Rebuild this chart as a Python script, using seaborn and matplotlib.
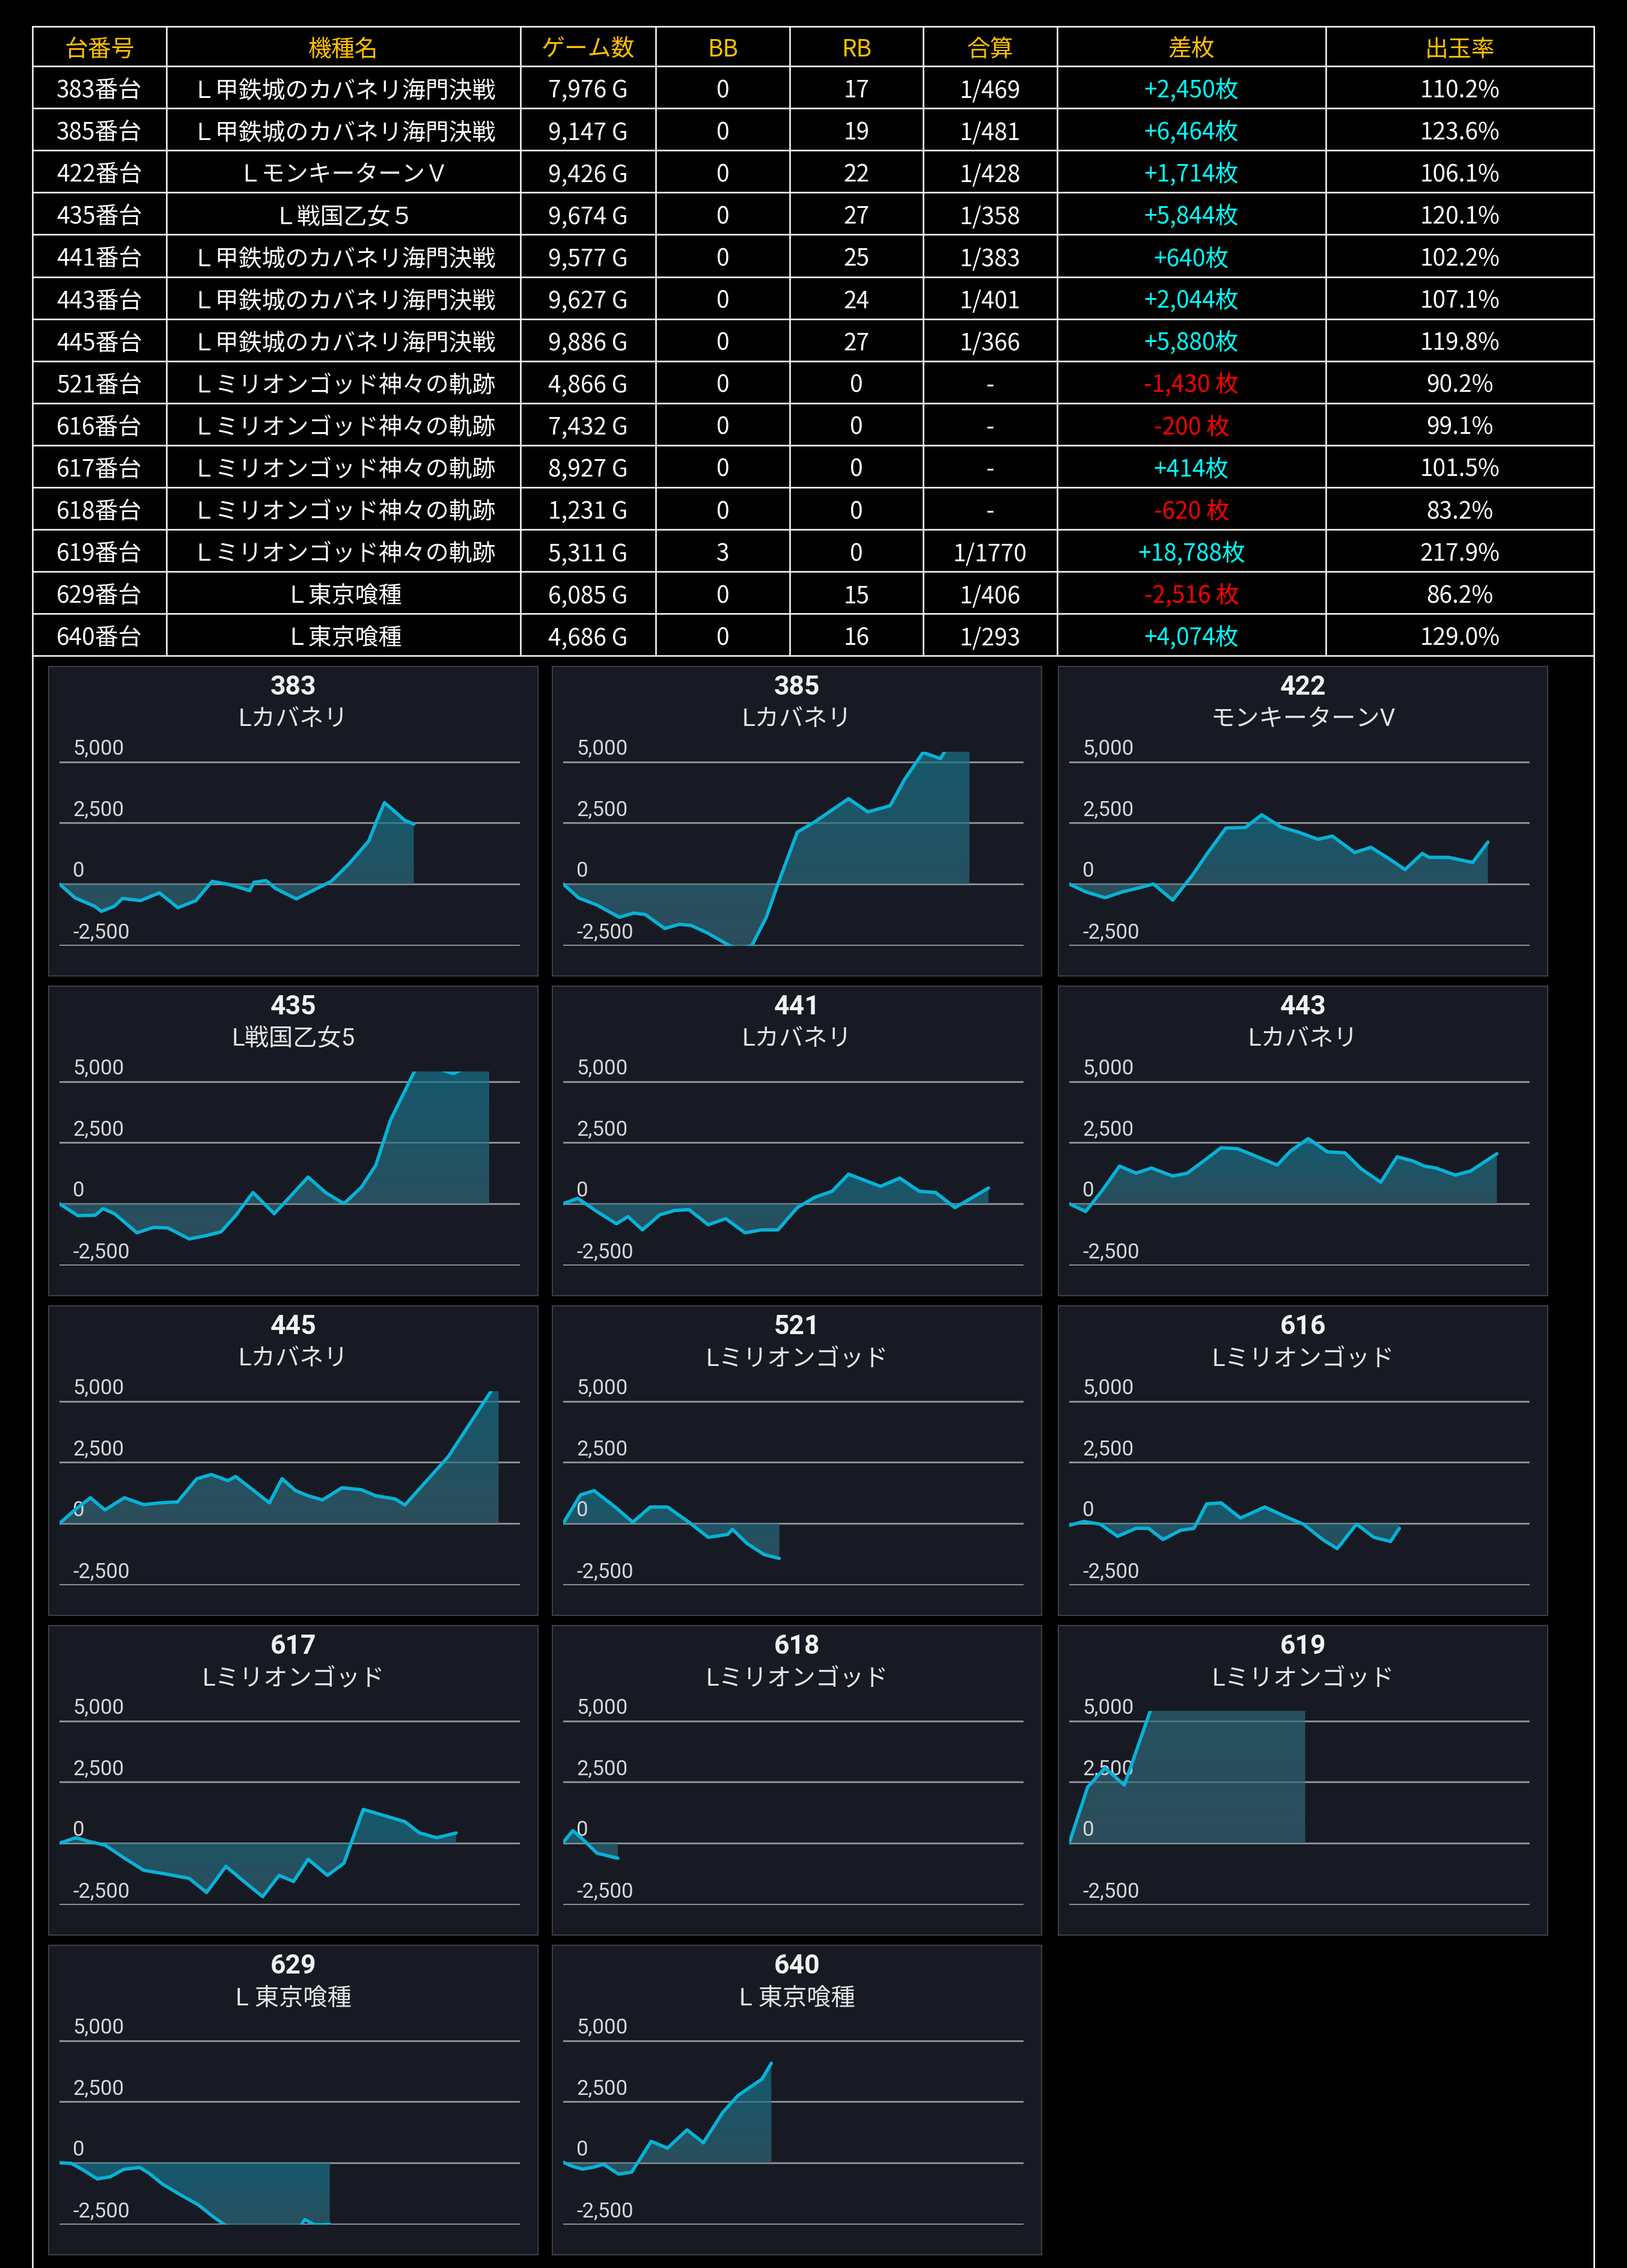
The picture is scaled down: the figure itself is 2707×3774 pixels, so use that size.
import numpy as np
import pandas as pd
import matplotlib
matplotlib.use("Agg")
import matplotlib.pyplot as plt
import seaborn as sns
from matplotlib.lines import Line2D
from matplotlib.patches import Rectangle

# --- table data ---
headers = ["台番号", "機種名", "ゲーム数", "BB", "RB", "合算", "差枚", "出玉率"]
machine_ids = [383, 385, 422, 435, 441, 443, 445, 521, 616, 617, 618, 619, 629, 640]
machine_names = [
    "Ｌ甲鉄城のカバネリ海門決戦", "Ｌ甲鉄城のカバネリ海門決戦", "ＬモンキーターンＶ", "Ｌ戦国乙女５",
    "Ｌ甲鉄城のカバネリ海門決戦", "Ｌ甲鉄城のカバネリ海門決戦", "Ｌ甲鉄城のカバネリ海門決戦",
    "Ｌミリオンゴッド神々の軌跡", "Ｌミリオンゴッド神々の軌跡", "Ｌミリオンゴッド神々の軌跡",
    "Ｌミリオンゴッド神々の軌跡", "Ｌミリオンゴッド神々の軌跡", "Ｌ東京喰種", "Ｌ東京喰種",
]
games = [7976, 9147, 9426, 9674, 9577, 9627, 9886, 4866, 7432, 8927, 1231, 5311, 6085, 4686]
bb = [0, 0, 0, 0, 0, 0, 0, 0, 0, 0, 0, 3, 0, 0]
rb = [17, 19, 22, 27, 25, 24, 27, 0, 0, 0, 0, 0, 15, 16]
combined = ["1/469", "1/481", "1/428", "1/358", "1/383", "1/401", "1/366",
            "-", "-", "-", "-", "1/1770", "1/406", "1/293"]
diff_coins = [2450, 6464, 1714, 5844, 640, 2044, 5880, -1430, -200, 414, -620, 18788, -2516, 4074]
payout = ["110.2%", "123.6%", "106.1%", "120.1%", "102.2%", "107.1%", "119.8%",
          "90.2%", "99.1%", "101.5%", "83.2%", "217.9%", "86.2%", "129.0%"]

# --- panel data (games played vs coin difference) ---
short_names = ["Lカバネリ", "Lカバネリ", "モンキーターンV", "L戦国乙女5", "Lカバネリ", "Lカバネリ",
               "Lカバネリ", "Lミリオンゴッド", "Lミリオンゴッド", "Lミリオンゴッド",
               "Lミリオンゴッド", "Lミリオンゴッド", "L 東京喰種", "L 東京喰種"]

x383 = [0, 353, 793, 940, 1234, 1418, 1822, 2248, 2666, 3070, 3437, 3841, 4282, 4378, 4650,
        4870, 5333, 5788, 6118, 6522, 6963, 7147, 7316, 7771, 7976]
y383 = [0, -570, -910, -1120, -910, -590, -680, -360, -970, -680, 110, -30, -270, 70, 140,
        -190, -610, -190, 110, 830, 1760, 2610, 3330, 2610, 2450]
x385 = [0, 348, 762, 1263, 1590, 1851, 2287, 2614, 2875, 3267, 3746, 3964, 4247, 4574, 4835,
        5271, 5663, 6425, 6860, 7361, 7688, 8102, 8494, 8647, 8900, 9147]
y385 = [0, -570, -860, -1360, -1190, -1250, -1820, -1650, -1690, -2020, -2520, -2650, -2520,
        -1360, 0, 2120, 2540, 3490, 2950, 3200, 4280, 5380, 5130, 5600, 6100, 6464]
x422 = [0, 370, 806, 1198, 1568, 1895, 2330, 2766, 3093, 3528, 3964, 4334, 4770, 5162, 5597,
        5924, 6425, 6795, 7187, 7558, 7950, 8102, 8538, 9082, 9426]
y422 = [0, -320, -560, -320, -160, 0, -660, 340, 1210, 2290, 2310, 2830, 2330, 2120, 1830,
        1960, 1290, 1500, 1050, 590, 1250, 1090, 1090, 880, 1714]
x435 = [0, 414, 806, 980, 1241, 1742, 2112, 2439, 2919, 3267, 3637, 3964, 4356, 4835, 5597,
        5989, 6403, 6795, 7122, 7449, 7993, 8211, 8865, 9191, 9674]
y435 = [0, -490, -470, -200, -410, -1190, -970, -990, -1440, -1320, -1150, -490, 460, -410,
        1090, 460, 0, 670, 1580, 3410, 5420, 5700, 5320, 5600, 5844]
x441 = [0, 327, 762, 1198, 1459, 1786, 2178, 2505, 2832, 3267, 3659, 4095, 4465, 4835, 5271,
        5663, 6055, 6425, 7144, 7579, 8015, 8385, 8821, 9577]
y441 = [0, 220, -320, -820, -530, -1070, -450, -280, -240, -860, -610, -1190, -1070, -1070,
        -160, 260, 510, 1210, 710, 1050, 510, 460, -160, 640]
x443 = [0, 370, 762, 1133, 1503, 1851, 2330, 2657, 3027, 3419, 3790, 4182, 4682, 4987, 5380,
        5815, 6207, 6577, 7013, 7383, 7732, 7993, 8254, 8690, 9039, 9627]
y443 = [0, -320, 590, 1540, 1250, 1460, 1130, 1250, 1750, 2290, 2250, 1960, 1580, 2160, 2660,
        2120, 2080, 1420, 880, 1920, 1750, 1540, 1460, 1170, 1340, 2044]
x445 = [0, 370, 697, 1023, 1459, 1895, 2265, 2657, 3093, 3419, 3790, 3964, 4291, 4726, 5010,
        5315, 5597, 5924, 6360, 6795, 7122, 7558, 7775, 8756, 9886]
y445 = [0, 590, 1050, 550, 1050, 770, 840, 880, 1830, 2000, 1750, 1920, 1460, 840, 1830,
        1340, 1130, 960, 1460, 1380, 1130, 1000, 750, 2740, 5880]
x521 = [0, 392, 697, 1198, 1568, 1960, 2352, 2832, 3267, 3702, 3811, 4138, 4530, 4866]
y521 = [0, 1170, 1340, 630, 50, 670, 670, 50, -570, -450, -240, -820, -1280, -1430]
x616 = [0, 327, 697, 1089, 1503, 1786, 2112, 2505, 2810, 3093, 3419, 3855, 4400, 4944, 5271,
        5706, 6033, 6469, 6860, 7231, 7432]
y616 = [-80, 80, -30, -530, -200, -200, -660, -280, -200, 800, 840, 220, 670, 220, -30,
        -660, -1030, -30, -570, -740, -200]
x617 = [0, 370, 697, 1023, 1459, 1895, 2439, 2919, 3311, 3746, 4182, 4574, 4944, 5271, 5597,
        6033, 6403, 6838, 7231, 7775, 8102, 8494, 8927]
y617 = [0, 220, 50, -80, -610, -1110, -1280, -1440, -2020, -950, -1610, -2190, -1320, -1570,
        -660, -1320, -820, 1380, 1170, 880, 420, 220, 414]
x618 = [0, 218, 435, 762, 1231]
y618 = [25, 510, 170, -410, -620]
x619 = [0, 414, 806, 1241, 1900, 2600, 3400, 4300, 5311]
y619 = [0, 2290, 3080, 2370, 5800, 8600, 11800, 15000, 18788]
x629 = [0, 264, 558, 851, 1145, 1439, 1806, 2026, 2320, 2716, 3127, 3450, 3714, 4300, 5000,
        5402, 5520, 5740, 5945, 6085]
y629 = [0, -20, -320, -660, -570, -270, -190, -440, -870, -1300, -1720, -2190, -2530, -3100,
        -2900, -2650, -2320, -2530, -2530, -2516]
x640 = [0, 220, 440, 705, 910, 1248, 1541, 1982, 2349, 2789, 3156, 3597, 3934, 4477, 4686]
y640 = [25, -150, -260, -170, -60, -460, -380, 880, 600, 1350, 820, 2070, 2750, 3430, 4074]

series_x = [x383, x385, x422, x435, x441, x443, x445, x521, x616, x617, x618, x619, x629, x640]
series_y = [y383, y385, y422, y435, y441, y443, y445, y521, y616, y617, y618, y619, y629, y640]
y_ticks = [-2500, 0, 2500, 5000]

# --- styling ---
sns.set_theme(style="dark")
plt.rcParams["font.family"] = ["Noto Sans CJK JP", "DejaVu Sans"]
JP = ["Noto Sans CJK JP", "DejaVu Sans"]
PANEL_FONT = ["Roboto", "Noto Sans CJK JP", "DejaVu Sans"]

W, H = 2707, 3774
BG_PANEL = "#171a23"
LINE_COL = "#08b2d6"
GOLD = "#ffc000"
CYAN = "#00ffff"
RED = "#ff0000"


def fx(x):
    return x / W


def fy(y):
    return 1 - y / H


fig = plt.figure(figsize=(W / 100, H / 100), dpi=100, facecolor="black")

# --- table ---
col_edges = [54, 277, 866, 1091, 1314, 1536, 1759, 2206, 2652]
table_top, header_bot, row_h = 44, 110, 70.1
row_edges = [table_top] + [header_bot + i * row_h for i in range(len(machine_ids) + 1)]
table_bot = row_edges[-1]
lw_tab = 1.8


def hline(y, x0, x1):
    fig.add_artist(Line2D([fx(x0), fx(x1)], [fy(y), fy(y)], transform=fig.transFigure,
                          color="white", lw=lw_tab))


def vline(x, y0, y1):
    fig.add_artist(Line2D([fx(x), fx(x)], [fy(y0), fy(y1)], transform=fig.transFigure,
                          color="white", lw=lw_tab))


for y in row_edges:
    hline(y, col_edges[0], col_edges[-1])
for x in col_edges[1:-1]:
    vline(x, table_top, table_bot)
# outer frame runs to the bottom of the image
vline(col_edges[0], table_top, H)
vline(col_edges[-1], table_top, H)

centers = [(col_edges[i] + col_edges[i + 1]) / 2 for i in range(len(col_edges) - 1)]
for c, h in zip(centers, headers):
    fig.text(fx(c), fy((table_top + header_bot) / 2 + 6), h, ha="center", va="center",
             fontsize=28, color=GOLD, family=JP)

for i in range(len(machine_ids)):
    cy = (row_edges[i + 1] + row_edges[i + 2]) / 2 + 6
    d = diff_coins[i]
    diff_txt = f"+{d:,}枚" if d >= 0 else f"{d:,} 枚"
    cells = [f"{machine_ids[i]}番台", machine_names[i], f"{games[i]:,} G", str(bb[i]),
             str(rb[i]), combined[i], diff_txt, payout[i]]
    colors = ["white"] * 6 + [CYAN if d >= 0 else RED, "white"]
    for c, t, col in zip(centers, cells, colors):
        fig.text(fx(c), fy(cy), t, ha="center", va="center", fontsize=28, color=col, family=JP)

# --- panels ---
col_lefts = [81, 919, 1761]
row_tops = [1109, 1641, 2173, 2705, 3237]
PW, PH = 814, 515
XMAX = 10365
YMIN, YMAX = -2540, 5400
px_per_unit = 101.7 / 2500
zero_off = 362

top_rgb = np.array([19, 117, 142]) / 255
bot_rgb = np.array([54, 100, 116]) / 255
t = np.linspace(0, 1, 256)[:, None]
grad = np.zeros((256, 1, 4))
grad[..., :3] = (bot_rgb[None, :] * (1 - t) + top_rgb[None, :] * t)[:, None, :]
grad[..., 3] = 0.7

for k, mid in enumerate(machine_ids):
    r, c = divmod(k, 3)
    pl, pt = col_lefts[c], row_tops[r]
    fig.add_artist(Rectangle((fx(pl), fy(pt + PH)), PW / W, PH / H, transform=fig.transFigure,
                             facecolor=BG_PANEL, edgecolor="#3b3e46", lw=1.5, zorder=0))
    fig.text(fx(pl + PW / 2), fy(pt + 35), str(mid), ha="center", va="center",
             fontsize=32, fontweight="bold", color="#f2f2f2", family=PANEL_FONT, zorder=2)
    fig.text(fx(pl + PW / 2), fy(pt + 88), short_names[k], ha="center", va="center",
             fontsize=29, color="#e4e4e4", family=PANEL_FONT, zorder=2)

    a_top = pt + zero_off - YMAX * px_per_unit
    a_bot = pt + zero_off - YMIN * px_per_unit
    ax = fig.add_axes([fx(pl + 18), fy(a_bot), 766 / W, (a_bot - a_top) / H])
    ax.patch.set_alpha(0)
    ax.set_axis_off()

    for v in y_ticks:
        ax.axhline(v, color="#8a8c93", lw=2.2, zorder=0.5)
        ax.annotate(f"{v:,}", xy=(0, v), xycoords=("axes fraction", "data"),
                    xytext=(22, 12), textcoords="offset pixels", ha="left", va="baseline",
                    fontsize=25, color="#d6d6d6", family=PANEL_FONT)

    xs = np.array(series_x[k], dtype=float)
    ys = np.array(series_y[k], dtype=float)
    poly = ax.fill_between(xs, ys, 0, facecolor="none", edgecolor="none")
    path = poly.get_paths()[0]
    lo, hi = min(ys.min(), 0), max(ys.max(), 0)
    im = ax.imshow(grad, extent=[0, xs[-1], lo, hi], origin="lower", aspect="auto",
                   interpolation="bilinear", zorder=1)
    im.set_clip_path(path, transform=ax.transData)

    df = pd.DataFrame({"games": xs, "coins": ys})
    sns.lineplot(data=df, x="games", y="coins", ax=ax, color=LINE_COL, linewidth=4.0,
                 estimator=None, sort=False, zorder=3)
    ax.set_xlim(0, XMAX)
    ax.set_ylim(YMIN, YMAX)
    ax.set_axis_off()

fig.savefig("out.png", dpi=100, facecolor="black")
